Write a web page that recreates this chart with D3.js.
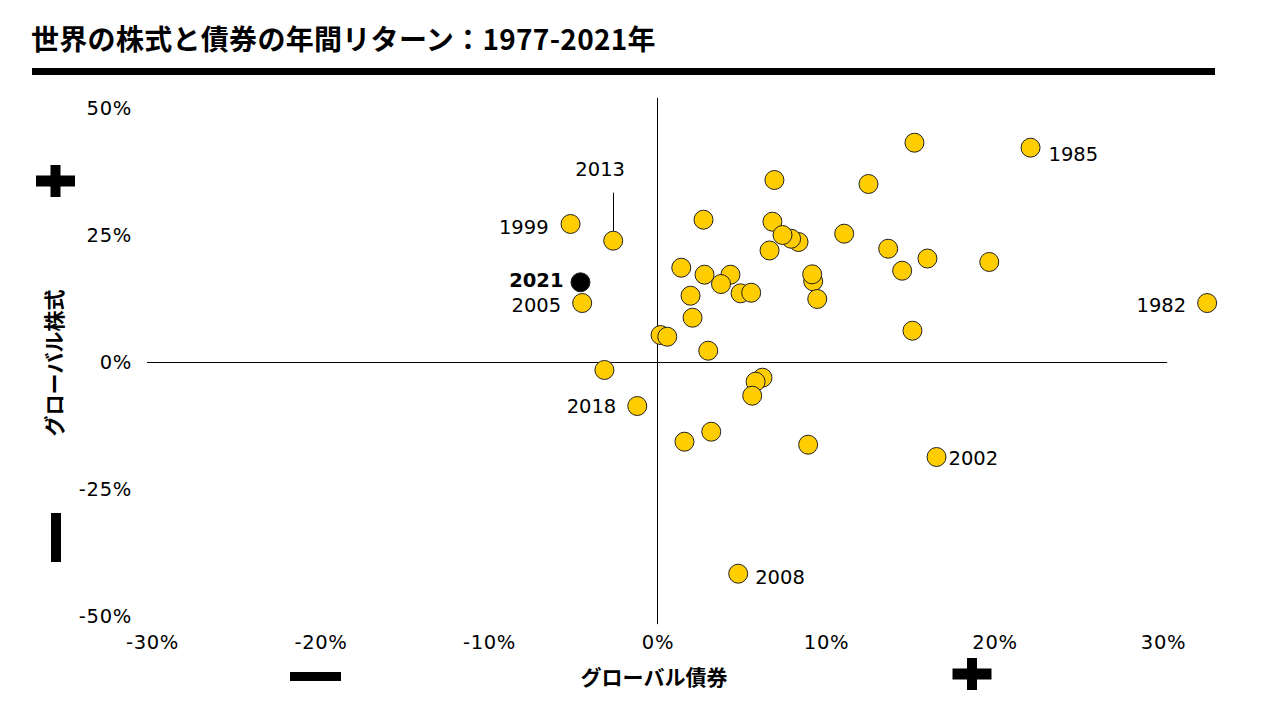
<!DOCTYPE html>
<html>
<head>
<meta charset="utf-8">
<script src="https://cdn.jsdelivr.net/npm/d3@7/dist/d3.min.js"></script>
<style>
    body { margin: 0; background: #fff; }
    svg text { font-family: "DejaVu Sans", sans-serif; }
    .jp { font-family: "Noto Sans CJK JP", sans-serif; font-weight: 700; }
</style>
</head>
<body>
<div id="chart"></div>
<script>
// annual returns, % (x = global bonds, y = global stocks)
const bondReturns = [
    15.25, 22.14, 6.94, 12.52, -5.16, 2.73, 6.82, -2.63, 8.37, 7.93,
    7.42, 11.08, 6.65, 13.69, 1.41, 2.79, 4.33, 3.77, 4.93, 5.56,
    9.24, 9.18, 9.48, 14.52, 16.02, 19.69, 1.96, 2.08, 0.18, 0.58,
    3.01, 15.13, 32.62, -4.47, -4.57, -3.15, -1.20, 6.23, 5.82, 5.62,
    1.60, 3.19, 8.94, 16.56, 4.79
];
const stockReturns = [
    43.17, 42.19, 35.83, 35.04, 27.17, 28.01, 27.62, 23.88, 23.62, 24.27,
    25.00, 25.26, 21.95, 22.30, 18.56, 17.19, 17.19, 15.35, 13.52, 13.64,
    15.89, 17.26, 12.40, 17.97, 20.37, 19.69, 13.05, 8.72, 5.31, 4.98,
    2.22, 6.16, 11.61, 11.61, 15.69, -1.57, -8.66, -3.09, -3.88, -6.63,
    -15.69, -13.72, -16.28, -18.70, -41.67
];
const yearLabels = [
    "", "1985", "", "", "1999", "", "", "2013", "", "",
    "", "", "", "", "", "", "", "", "", "",
    "", "", "", "", "", "", "", "", "", "",
    "", "", "1982", "2005", "2021", "", "2018", "", "", "",
    "", "", "", "2002", "2008"
];
const xTicks = [-30, -20, -10, 0, 10, 20, 30];
const yTicks = [-50, -25, 0, 25, 50];
const highlightYear = "2021";

const titleText = "世界の株式と債券の年間リターン：1977-2021年";
const xTitle = "グローバル債券";
const yTitle = "グローバル株式";

// where each year label sits relative to its dot
const labelPlace = {
    "1985": {anchor: "start", dx: 18, dy: 13},
    "1999": {anchor: "end", dx: -22, dy: 10},
    "2013": {anchor: "middle", dx: -13, dy: -65, leader: true},
    "1982": {anchor: "end", dx: -21, dy: 9},
    "2005": {anchor: "end", dx: -21, dy: 9},
    "2021": {anchor: "end", dx: -17, dy: 5},
    "2018": {anchor: "end", dx: -21, dy: 7},
    "2002": {anchor: "start", dx: 12, dy: 8},
    "2008": {anchor: "start", dx: 17, dy: 10}
};

const width = 1280, height = 720;

const svg = d3.select("#chart").append("svg")
    .attr("width", width)
    .attr("height", height);

// title + heavy rule
svg.append("text")
    .attr("class", "jp")
    .attr("x", 31)
    .attr("y", 50)
    .attr("font-size", 28)
    .attr("letter-spacing", 0.3)
    .text(titleText);

svg.append("rect")
    .attr("x", 32).attr("y", 68)
    .attr("width", 1183).attr("height", 7)
    .attr("fill", "#000");

let x = d3.scaleLinear().domain([-30, 30]).range([152, 1163]);
let y = d3.scaleLinear().domain([-50, 50]).range([616, 108]);

// cross-shaped axes through zero, snapped to half pixels so they stay crisp
let snap = function (v) { return Math.floor(v) + 0.5; };

svg.append("line")
    .attr("x1", x(-30.3)).attr("x2", x(30.25))
    .attr("y1", snap(y(0))).attr("y2", snap(y(0)))
    .attr("stroke", "#000").attr("stroke-width", 1);

svg.append("line")
    .attr("x1", snap(x(0))).attr("x2", snap(x(0)))
    .attr("y1", y(52)).attr("y2", y(-51.6))
    .attr("stroke", "#000").attr("stroke-width", 1);

let fmt = function (d) { return d + "%"; };

let xAxis = svg.append("g")
    .attr("transform", "translate(0," + 624 + ")")
    .call(d3.axisBottom(x).tickValues(xTicks).tickSize(0).tickPadding(11).tickFormat(fmt));

let yAxis = svg.append("g")
    .attr("transform", "translate(" + 147 + ",0)")
    .call(d3.axisLeft(y).tickValues(yTicks).tickSize(0).tickPadding(15).tickFormat(fmt));

[xAxis, yAxis].forEach(function (a) {
    a.select(".domain").remove();
    a.selectAll("text")
        .attr("font-family", "DejaVu Sans, sans-serif")
        .attr("font-size", 19.5)
        .attr("letter-spacing", 0.7)
        .attr("fill", "#000");
});

// axis titles
svg.append("text")
    .attr("class", "jp")
    .attr("x", 654).attr("y", 685)
    .attr("text-anchor", "middle")
    .attr("font-size", 21)
    .text(xTitle);

svg.append("text")
    .attr("class", "jp")
    .attr("transform", "translate(62,363) rotate(-90)")
    .attr("text-anchor", "middle")
    .attr("font-size", 21)
    .text(yTitle);

// plus / minus markers
function plus(cx, cy) {
    svg.append("rect").attr("x", cx - 19.5).attr("y", cy - 5.5).attr("width", 39).attr("height", 11).attr("fill", "#000");
    svg.append("rect").attr("x", cx - 5).attr("y", cy - 16).attr("width", 10).attr("height", 32).attr("fill", "#000");
}
plus(55.5, 181);
plus(972, 674);
svg.append("rect").attr("x", 51).attr("y", 513).attr("width", 10).attr("height", 49).attr("fill", "#000");
svg.append("rect").attr("x", 290).attr("y", 672).attr("width", 51).attr("height", 9).attr("fill", "#000");

let data = bondReturns.map(function (b, i) {
    return {bond: b, stock: stockReturns[i], year: yearLabels[i]};
});

// leader line for 2013
data.filter(function (d) { return d.year && labelPlace[d.year].leader; })
    .forEach(function (d) {
        svg.append("line")
            .attr("x1", snap(x(d.bond))).attr("x2", snap(x(d.bond)))
            .attr("y1", y(d.stock) - 48).attr("y2", y(d.stock) - 9.5)
            .attr("stroke", "#000").attr("stroke-width", 1);
    });

svg.selectAll(".dot")
    .data(data)
    .enter().append("circle")
    .attr("class", "dot")
    .attr("cx", function (d) { return x(d.bond); })
    .attr("cy", function (d) { return y(d.stock); })
    .attr("r", 9.5)
    .attr("fill", function (d) { return d.year === highlightYear ? "#000" : "#ffcd00"; })
    .attr("stroke", "#222")
    .attr("stroke-width", 1);

svg.selectAll(".year")
    .data(data.filter(function (d) { return d.year; }))
    .enter().append("text")
    .attr("class", "year")
    .attr("x", function (d) { return x(d.bond) + labelPlace[d.year].dx; })
    .attr("y", function (d) { return y(d.stock) + labelPlace[d.year].dy; })
    .attr("text-anchor", function (d) { return labelPlace[d.year].anchor; })
    .attr("font-size", 19.5)
    .attr("font-weight", function (d) { return d.year === highlightYear ? 700 : 400; })
    .attr("fill", "#000")
    .text(function (d) { return d.year; });
</script>
</body>
</html>
